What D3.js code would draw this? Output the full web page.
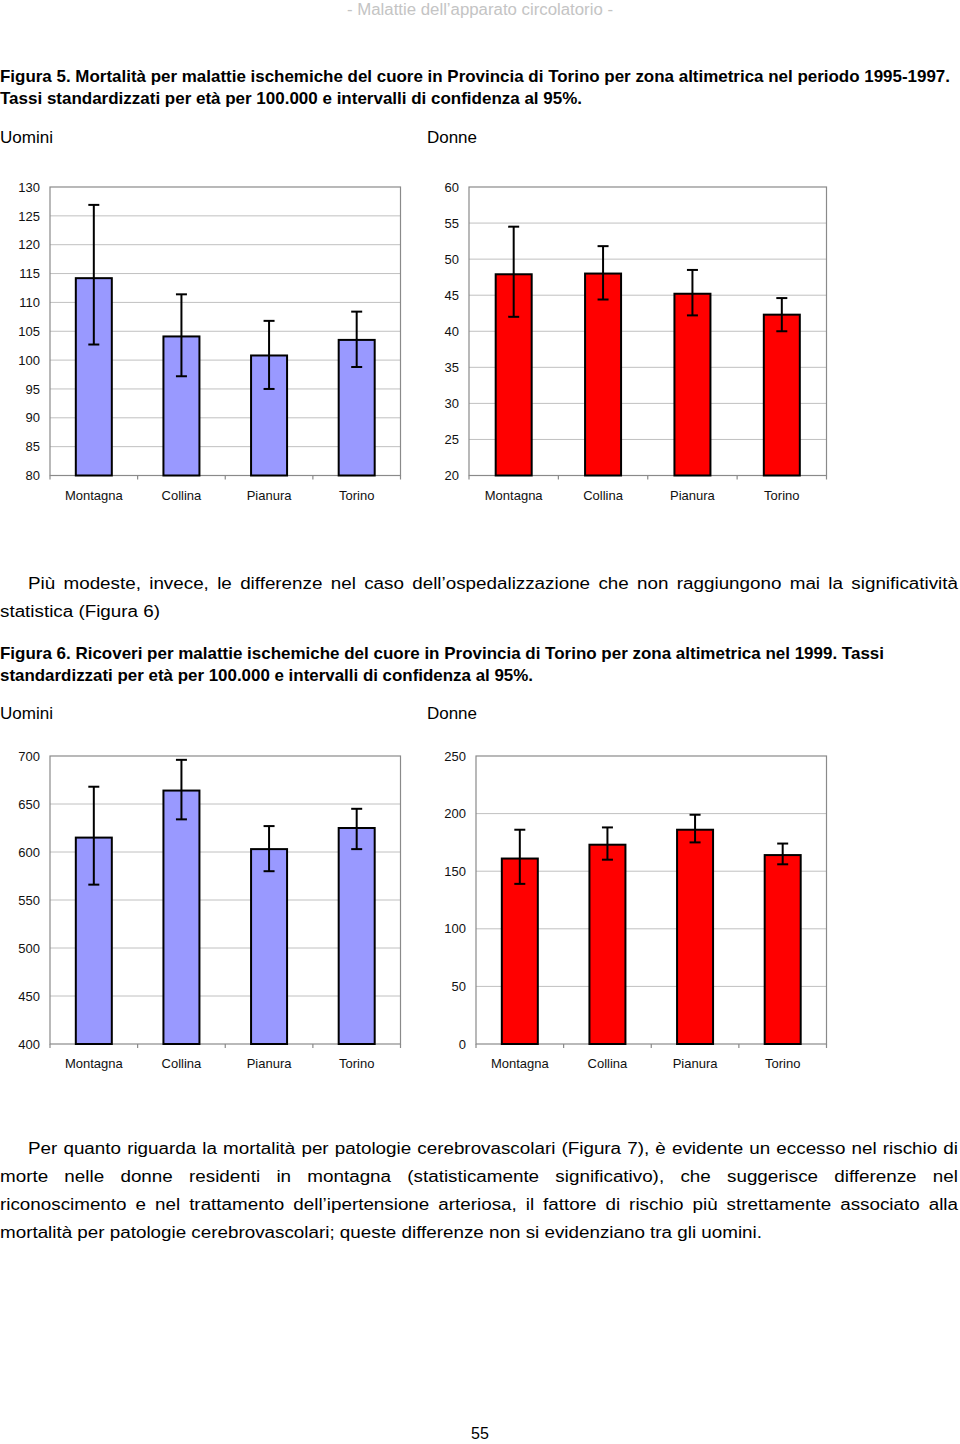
<!DOCTYPE html>
<html>
<head>
<meta charset="utf-8">
<script src="https://cdn.jsdelivr.net/npm/d3@7"></script>
<style>
  html, body { margin: 0; padding: 0; background: #fff; }
  svg { display: block; }
</style>
</head>
<body>
<svg id="page" width="960" height="1444"></svg>
<script>
// categories (same in all four charts)
var categories = ["Montagna", "Collina", "Pianura", "Torino"];

// Figura 5 - mortalita', Uomini
var fig5MenRate = [114.2, 104.1, 100.8, 103.5];
var fig5MenLow  = [102.7, 97.2, 95.0, 98.8];
var fig5MenHigh = [126.9, 111.4, 106.8, 108.4];
var fig5MenTicks = [80, 85, 90, 95, 100, 105, 110, 115, 120, 125, 130];

// Figura 5 - mortalita', Donne
var fig5WomenRate = [47.9, 48.0, 45.2, 42.3];
var fig5WomenLow  = [42.0, 44.4, 42.2, 40.0];
var fig5WomenHigh = [54.5, 51.8, 48.5, 44.6];
var fig5WomenTicks = [20, 25, 30, 35, 40, 45, 50, 55, 60];

// Figura 6 - ricoveri, Uomini
var fig6MenRate = [615, 664, 603, 625];
var fig6MenLow  = [566, 634, 580, 603];
var fig6MenHigh = [668, 696, 627, 645];
var fig6MenTicks = [400, 450, 500, 550, 600, 650, 700];

// Figura 6 - ricoveri, Donne
var fig6WomenRate = [161, 173, 186, 164];
var fig6WomenLow  = [139, 160, 175, 156];
var fig6WomenHigh = [186, 188, 199, 174];
var fig6WomenTicks = [0, 50, 100, 150, 200, 250];

var svg = d3.select("#page");
var bodyFont = "'Liberation Sans Narrow', 'Liberation Sans', Arial, sans-serif";
var chartFont = "'Liberation Sans', Arial, sans-serif";

// ---------- text helpers ----------
function naturalWidth(txt, size, weight) {
  var t = svg.append("text").attr("font-family", bodyFont)
    .attr("font-size", size).attr("font-weight", weight).text(txt);
  var w = t.node().getComputedTextLength();
  t.remove();
  return w;
}

// plain line squeezed to a known width
function fitLine(txt, x0, x1, y, size, weight, fill) {
  svg.append("text")
    .attr("x", x0).attr("y", y)
    .attr("font-family", bodyFont).attr("font-size", size)
    .attr("font-weight", weight || "normal")
    .attr("fill", fill || "#000")
    .attr("textLength", x1 - x0).attr("lengthAdjust", "spacingAndGlyphs")
    .text(txt);
}

// justified line: words squeezed by factor s, gaps stretched
function justifyLine(txt, x0, x1, y, size, s) {
  var words = txt.split(" ");
  var ws = words.map(function (w) { return naturalWidth(w, size, "normal") * s; });
  var gap = (x1 - x0 - d3.sum(ws)) / (words.length - 1);
  var x = x0;
  words.forEach(function (w, i) {
    svg.append("text")
      .attr("x", x).attr("y", y)
      .attr("font-family", bodyFont).attr("font-size", size)
      .attr("textLength", ws[i]).attr("lengthAdjust", "spacingAndGlyphs")
      .text(w);
    x += ws[i] + gap;
  });
}

var lastLine = "mortalità per patologie cerebrovascolari; queste differenze non si evidenziano tra gli uomini.";
var squeeze = 762 / naturalWidth(lastLine, 16, "normal");

// header
svg.append("text").attr("x", 480).attr("y", 15).attr("text-anchor", "middle")
  .attr("font-family", bodyFont).attr("font-size", 16).attr("fill", "#c4c4c4")
  .attr("textLength", 266).attr("lengthAdjust", "spacingAndGlyphs")
  .text("- Malattie dell’apparato circolatorio -");

// Figura 5 caption
fitLine("Figura 5. Mortalità per malattie ischemiche del cuore in Provincia di Torino per zona altimetrica nel periodo 1995-1997.", 0, 950, 82, 16.5, "bold");
fitLine("Tassi standardizzati per età per 100.000 e intervalli di confidenza al 95%.", 0, 582, 104, 16.5, "bold");
fitLine("Uomini", 0, 53, 143, 16);
fitLine("Donne", 427, 477, 143, 16);

// paragraph 1
justifyLine("Più modeste, invece, le differenze nel caso dell’ospedalizzazione che non raggiungono mai la significatività", 28, 958, 589, 16, squeeze);
fitLine("statistica (Figura 6)", 0, 160, 617, 16);

// Figura 6 caption
fitLine("Figura 6. Ricoveri per malattie ischemiche del cuore in Provincia di Torino per zona altimetrica nel 1999. Tassi", 0, 884, 659, 16.5, "bold");
fitLine("standardizzati per età per 100.000 e intervalli di confidenza al 95%.", 0, 533, 681, 16.5, "bold");
fitLine("Uomini", 0, 53, 719, 16);
fitLine("Donne", 427, 477, 719, 16);

// paragraph 2
justifyLine("Per quanto riguarda la mortalità per patologie cerebrovascolari (Figura 7), è evidente un eccesso nel rischio di", 28, 958, 1154, 16, squeeze);
justifyLine("morte nelle donne residenti in montagna (statisticamente significativo), che suggerisce differenze nel", 0, 958, 1182, 16, squeeze);
justifyLine("riconoscimento e nel trattamento dell’ipertensione arteriosa, il fattore di rischio più strettamente associato alla", 0, 958, 1210, 16, squeeze);
fitLine(lastLine, 0, 762, 1238, 16);

// page number
svg.append("text").attr("x", 480).attr("y", 1439).attr("text-anchor", "middle")
  .attr("font-family", chartFont).attr("font-size", 16).text("55");

// ---------- bar chart ----------
function barChart(cfg) {
  var g = svg.append("g");
  var x = d3.scaleBand().domain(categories).range([cfg.x0, cfg.x1]).padding(0);
  var y = d3.scaleLinear().domain(d3.extent(cfg.ticks)).range([cfg.y1, cfg.y0]);
  var bw = 36;

  // gridlines
  g.selectAll(".grid").data(cfg.ticks.slice(1, -1)).join("line")
    .attr("x1", cfg.x0).attr("x2", cfg.x1)
    .attr("y1", function (d) { return y(d); }).attr("y2", function (d) { return y(d); })
    .attr("stroke", "#c0c0c0").attr("stroke-width", 1);

  // plot border
  g.append("rect").attr("x", cfg.x0).attr("y", cfg.y0)
    .attr("width", cfg.x1 - cfg.x0).attr("height", cfg.y1 - cfg.y0)
    .attr("fill", "none").attr("stroke", "#8a8a8a").attr("stroke-width", 1.2);

  // y tick labels
  var yAxis = d3.axisLeft(y).tickValues(cfg.ticks).tickSize(0).tickPadding(10);
  var ya = g.append("g").attr("transform", "translate(" + cfg.x0 + ",0)").call(yAxis);
  ya.select(".domain").remove();
  ya.selectAll("text").attr("font-family", chartFont).attr("font-size", 13).attr("fill", "#111");

  // x axis with ticks at category boundaries
  var bounds = categories.map(function (c) { return x(c); }).concat([cfg.x1]);
  g.selectAll(".xt").data(bounds).join("line")
    .attr("x1", function (d) { return d; }).attr("x2", function (d) { return d; })
    .attr("y1", cfg.y1).attr("y2", cfg.y1 + 4)
    .attr("stroke", "#8a8a8a").attr("stroke-width", 1.2);
  g.selectAll(".xl").data(categories).join("text")
    .attr("x", function (d) { return x(d) + x.bandwidth() / 2; })
    .attr("y", cfg.y1 + 24)
    .attr("text-anchor", "middle")
    .attr("font-family", chartFont).attr("font-size", 13).attr("fill", "#111")
    .text(function (d) { return d; });

  // bars
  g.selectAll(".bar").data(cfg.rate).join("rect")
    .attr("x", function (d, i) { return x(categories[i]) + x.bandwidth() / 2 - bw / 2; })
    .attr("y", function (d) { return y(d); })
    .attr("width", bw)
    .attr("height", function (d) { return y(cfg.ticks[0]) - y(d); })
    .attr("fill", cfg.color).attr("stroke", "#000").attr("stroke-width", 2);

  // error bars
  var eb = g.selectAll(".eb").data(cfg.rate).join("g");
  eb.append("line")
    .attr("x1", function (d, i) { return x(categories[i]) + x.bandwidth() / 2; })
    .attr("x2", function (d, i) { return x(categories[i]) + x.bandwidth() / 2; })
    .attr("y1", function (d, i) { return y(cfg.low[i]); })
    .attr("y2", function (d, i) { return y(cfg.high[i]); })
    .attr("stroke", "#000").attr("stroke-width", 2);
  [cfg.low, cfg.high].forEach(function (arr) {
    eb.append("line")
      .attr("x1", function (d, i) { return x(categories[i]) + x.bandwidth() / 2 - 5.5; })
      .attr("x2", function (d, i) { return x(categories[i]) + x.bandwidth() / 2 + 5.5; })
      .attr("y1", function (d, i) { return y(arr[i]); })
      .attr("y2", function (d, i) { return y(arr[i]); })
      .attr("stroke", "#000").attr("stroke-width", 2);
  });
}

barChart({ x0: 50, x1: 400.5, y0: 187, y1: 475.5, ticks: fig5MenTicks,
  rate: fig5MenRate, low: fig5MenLow, high: fig5MenHigh, color: "#9999ff" });
barChart({ x0: 469, x1: 826.5, y0: 187, y1: 475.5, ticks: fig5WomenTicks,
  rate: fig5WomenRate, low: fig5WomenLow, high: fig5WomenHigh, color: "#ff0000" });
barChart({ x0: 50, x1: 400.5, y0: 756, y1: 1044, ticks: fig6MenTicks,
  rate: fig6MenRate, low: fig6MenLow, high: fig6MenHigh, color: "#9999ff" });
barChart({ x0: 476, x1: 826.5, y0: 756, y1: 1044, ticks: fig6WomenTicks,
  rate: fig6WomenRate, low: fig6WomenLow, high: fig6WomenHigh, color: "#ff0000" });
</script>
</body>
</html>
